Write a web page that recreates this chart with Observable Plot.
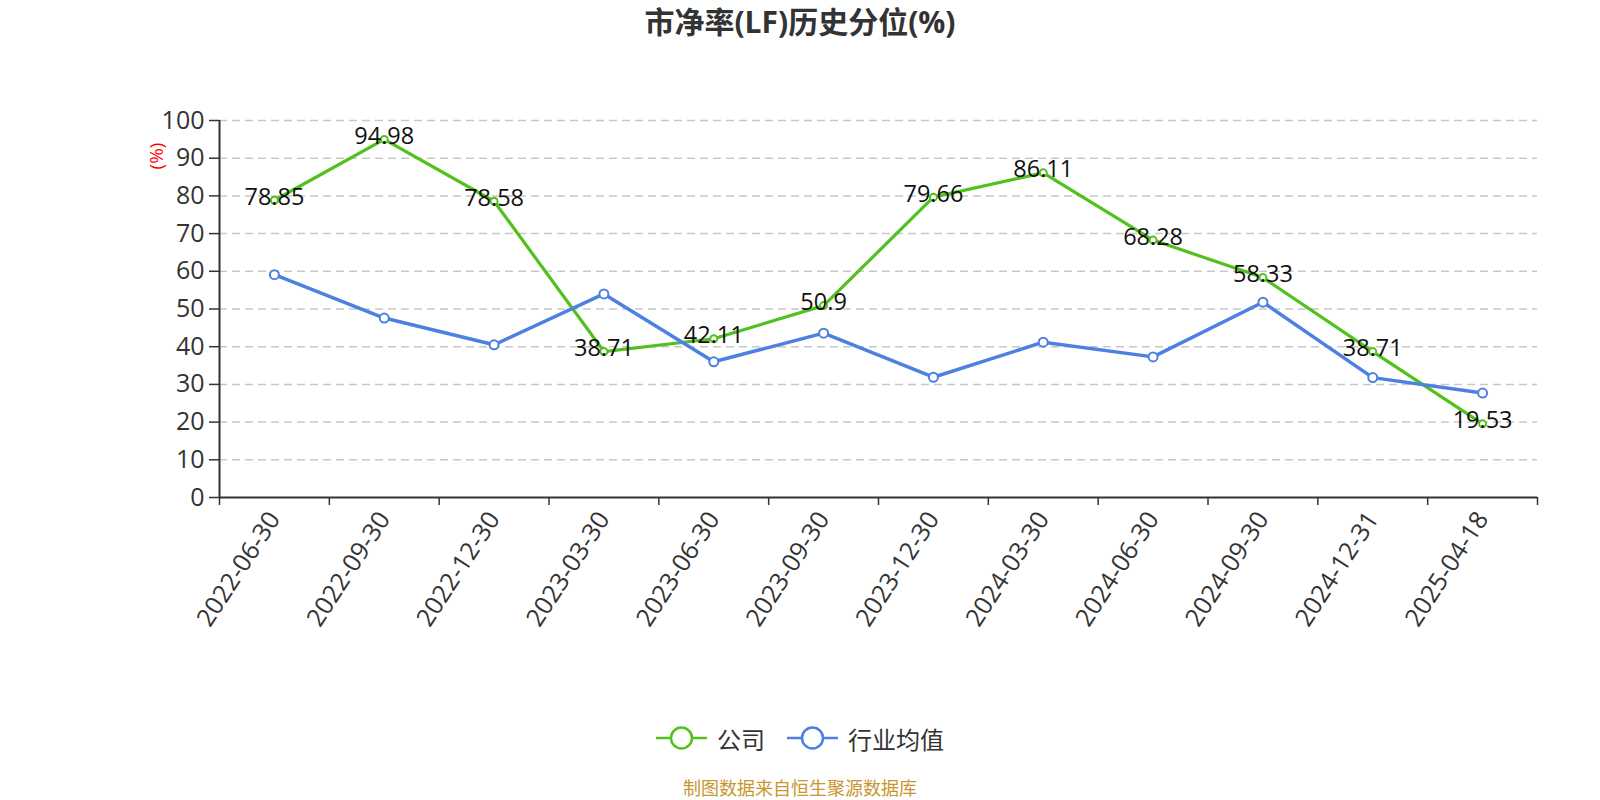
<!DOCTYPE html>
<html>
<head>
<meta charset="utf-8">
<script src="https://cdn.jsdelivr.net/npm/d3@7"></script>
<script src="https://cdn.jsdelivr.net/npm/@observablehq/plot@0.6"></script>
<style>
  html, body { margin: 0; padding: 0; background: #fff; }
  body { width: 1600px; height: 800px; position: relative; overflow: hidden;
         font-family: "Open Sans", "Noto Sans CJK SC", sans-serif; }
  #title { position: absolute; top: 7px; left: 0; width: 1600px; text-align: center;
           font-size: 30px; line-height: 30px; font-weight: bold; color: #333; }
  #chart { position: absolute; top: 0; left: 0; }
  #ylab { position: absolute; left: 156px; top: 156px; color: red; font-size: 19px; line-height: 19px;
          transform: translate(-50%, -50%) rotate(-90deg); white-space: nowrap; }
  #legend { position: absolute; top: 722px; left: 0; width: 1600px; height: 32px; display: flex;
            justify-content: center; align-items: center; font-size: 24px; color: #333; }
  .item { display: flex; align-items: center; margin: 0 11px; }
  .item svg { margin-right: 10px; }
  #footer { position: absolute; top: 777px; left: 0; width: 1600px; text-align: center;
            font-size: 18px; line-height: 22px; color: #c8962e; }
</style>
</head>
<body>
<div id="title">市净率(LF)历史分位(%)</div>
<div id="chart"></div>
<div id="ylab">(%)</div>
<div id="legend"></div>
<div id="footer">制图数据来自恒生聚源数据库</div>
<script>
const dates = ["2022-06-30","2022-09-30","2022-12-30","2023-03-30","2023-06-30","2023-09-30",
               "2023-12-30","2024-03-30","2024-06-30","2024-09-30","2024-12-31","2025-04-18"];
const company = [78.85,94.98,78.58,38.71,42.11,50.9,79.66,86.11,68.28,58.33,38.71,19.53];
const industry = [59.1,47.6,40.5,54.0,36.0,43.6,31.9,41.2,37.3,51.8,31.8,27.7];
const seriesNames = ["公司","行业均值"];
const colors = ["#52c11e","#4d80e2"];
const yTicks = d3.range(0, 101, 10);

const rows = dates.map((d, i) => ({i, date: d, company: company[i], industry: industry[i]}));
const xPos = d => d.i + 0.5;

const chart = Plot.plot({
  width: 1600,
  height: 700,
  marginTop: 120,
  marginBottom: 203,
  marginLeft: 219,
  marginRight: 63,
  style: {fontFamily: '"Open Sans", "Noto Sans CJK SC", sans-serif', color: "#333", background: "transparent"},
  x: {type: "linear", domain: [0, dates.length]},
  y: {domain: [0, 100]},
  marks: [
    Plot.gridY({ticks: yTicks.filter(v => v > 0), stroke: "#c8c8c8", strokeOpacity: 1, strokeDasharray: "8,5", strokeWidth: 1.5}),
    Plot.axisY({ticks: yTicks, tickSize: 10, tickPadding: 5, fontSize: 25, label: null, stroke: "#333", strokeWidth: 1.5}),
    Plot.ruleX([0], {y1: 0, y2: 100, stroke: "#333", strokeWidth: 2}),
    Plot.ruleY([0], {stroke: "#333", strokeWidth: 2}),
    Plot.axisX({ticks: d3.range(0, dates.length + 1), tickSize: 8, tickFormat: () => "", label: null, stroke: "#333", strokeWidth: 1.5}),
    Plot.axisX({ticks: dates.map((d, i) => i + 0.5), tickFormat: v => dates[Math.floor(v)], tickSize: 0,
                tickPadding: 17, tickRotate: -57, fontSize: 25, label: null}),
    Plot.line(rows, {x: xPos, y: "company", stroke: colors[0], strokeWidth: 3.2}),
    Plot.dot(rows, {x: xPos, y: "company", r: 3.5, fill: "white", stroke: colors[0], strokeWidth: 2}),
    Plot.line(rows, {x: xPos, y: "industry", stroke: colors[1], strokeWidth: 3.5}),
    Plot.dot(rows, {x: xPos, y: "industry", r: 4.5, fill: "white", stroke: colors[1], strokeWidth: 2}),
    Plot.text(rows, {x: xPos, y: "company", text: d => String(d.company), fontSize: 23.5, fill: "#111", dy: -3, lineAnchor: "middle"})
  ]
});
document.getElementById("chart").appendChild(chart);

const legend = document.getElementById("legend");
seriesNames.forEach((name, k) => {
  const item = document.createElement("div");
  item.className = "item";
  item.innerHTML = `<svg width="51" height="26"><line x1="0" y1="13" x2="51" y2="13" stroke="${colors[k]}" stroke-width="2.5"/>` +
    `<circle cx="25.5" cy="13" r="10.5" fill="white" stroke="${colors[k]}" stroke-width="2.5"/></svg><span>${name}</span>`;
  legend.appendChild(item);
});
</script>
</body>
</html>
